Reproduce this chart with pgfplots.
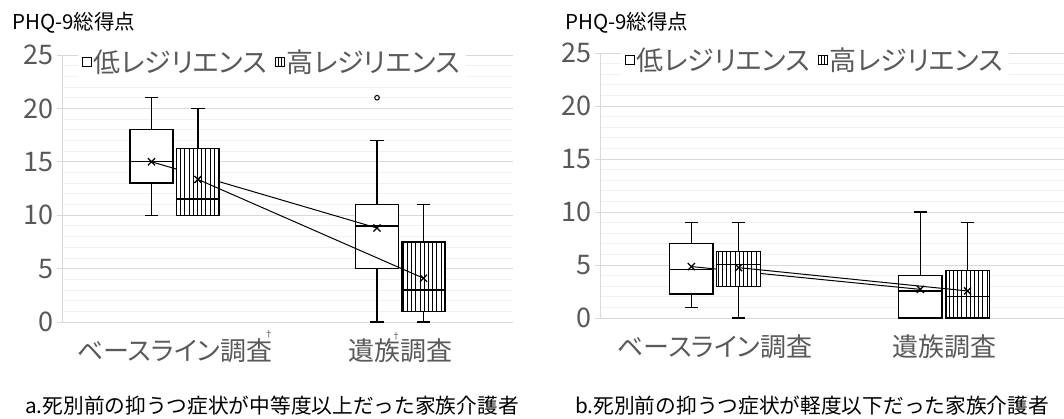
\documentclass[border=0pt]{standalone}
\usepackage{fontspec}
\setmainfont{Noto Sans CJK JP}[RawFeature={+palt}]
\newfontfamily\capfont{Noto Sans CJK JP}
\usepackage{pgfplots}
\pgfplotsset{compat=1.18}
\usepgfplotslibrary{statistics}
\usetikzlibrary{patterns.meta}
\definecolor{labgray}{HTML}{595959}
\definecolor{gridmaj}{HTML}{D9D9D9}
\definecolor{gridmin}{HTML}{F0F0F0}
\pgfplotsset{
  mybase/.style={
    scale only axis, anchor=south west,
    ymin=0, ymax=25,
    axis x line*=bottom, axis y line*=left,
    axis line style={draw=gridmaj, line width=0.8pt, -},
    ytick={0,5,...,25}, minor ytick={1,2,3,4,6,7,8,9,11,12,13,14,16,17,18,19,21,22,23,24},
    ymajorgrids, yminorgrids,
    major grid style={draw=gridmaj, line width=0.8pt},
    minor grid style={draw=gridmin, line width=0.8pt},
    xtick={1,2},
    major x tick style={draw=none},
    tick align=outside, major tick length=5pt, minor tick length=0pt,
    major y tick style={draw=gridmaj, line width=0.8pt},
    yticklabel style={font=\fontsize{27}{27}\selectfont, text=labgray},
    xticklabel style={font=\fontsize{26}{26}\selectfont, text=labgray, yshift=-8pt},
    /pgf/number format/assume math mode=true,
    clip=false,
    boxplot/draw direction=y,
    legend style={draw=none, fill=white, legend columns=2,
      font=\fontsize{27}{27}\selectfont, text=labgray,
      inner xsep=4pt, inner ysep=1pt,
      /tikz/every even column/.append style={column sep=6pt}},
  },
  lowbox/.style={forget plot, draw=black, line width=1.35pt,
    boxplot/every box/.style={fill=white}},
  highbox/.style={forget plot, draw=black, line width=1.35pt,
    boxplot/every box/.style={preaction={fill=white},
      pattern={Lines[angle=90,distance=4.2pt,line width=0.9pt]}}},
  meanline/.style={forget plot, black, line width=1pt, mark=x, mark size=5pt,
    mark options={line width=1.3pt}},
}
\newcommand{\legimgs}{%
  \addlegendimage{legend image code/.code={\draw[black,line width=0.9pt,fill=white] (0pt,-4.5pt) rectangle (9pt,4.5pt);}}
  \addlegendentry{低レジリエンス}
  \addlegendimage{legend image code/.code={\draw[black,line width=0.9pt,fill=white] (0pt,-4.5pt) rectangle (9pt,4.5pt);
     \draw[black,line width=0.9pt] (3pt,-4.5pt) -- (3pt,4.5pt) (6pt,-4.5pt) -- (6pt,4.5pt);}}
  \addlegendentry{高レジリエンス}%
}
\begin{document}
\begin{tikzpicture}[x=1pt,y=1pt]
% ---------- left chart ----------
\begin{axis}[mybase, at={(62pt,97pt)}, width=451pt, height=267pt,
  xmin=0.5, xmax=2.5,
  xticklabels={ベースライン調査, 遺族調査},
  legend style={at={(rel axis cs:0.035,1.03)}, anchor=north west}]
\legimgs
% low boxes
\addplot[lowbox, boxplot prepared={draw position=0.897, lower whisker=10, lower quartile=13, median=15, upper quartile=18, upper whisker=21, box extend=0.19, whisker extend=0.058}] coordinates {};
\addplot[lowbox, boxplot prepared={draw position=1.897, lower whisker=0, lower quartile=5, median=9, upper quartile=11, upper whisker=17, box extend=0.19, whisker extend=0.058}] coordinates {};
\addplot[forget plot, only marks, mark=o, mark size=2.3pt, black, line width=1pt] coordinates {(1.897,21)};
\addplot[meanline] coordinates {(0.897,15.0) (1.897,8.8)};
% high boxes
\addplot[highbox, boxplot prepared={draw position=1.103, lower whisker=10, lower quartile=10, median=11.5, upper quartile=16.25, upper whisker=20, box extend=0.19, whisker extend=0.058}] coordinates {};
\addplot[highbox, boxplot prepared={draw position=2.103, lower whisker=0, lower quartile=1, median=3, upper quartile=7.5, upper whisker=11, box extend=0.19, whisker extend=0.058}] coordinates {};
\addplot[meanline] coordinates {(1.103,13.35) (2.103,4.1)};
\node[font=\fontsize{9}{9}\selectfont, text=labgray] at (axis cs:1.417,-1.2) {†};
\node[font=\fontsize{9}{9}\selectfont, text=labgray] at (axis cs:1.982,-1.3) {†};
\end{axis}
% ---------- right chart ----------
\begin{axis}[mybase, at={(600pt,101pt)}, width=464pt, height=265pt,
  xmin=0.498, xmax=2.524,
  xticklabels={ベースライン調査, 遺族調査},
  legend style={at={(rel axis cs:0.045,1.03)}, anchor=north west}]
\legimgs
\addplot[lowbox, boxplot prepared={draw position=0.897, lower whisker=1, lower quartile=2.25, median=4.55, upper quartile=7, upper whisker=9, box extend=0.19, whisker extend=0.058}] coordinates {};
\addplot[lowbox, boxplot prepared={draw position=1.897, lower whisker=0, lower quartile=0, median=2.55, upper quartile=4, upper whisker=10, box extend=0.19, whisker extend=0.058}] coordinates {};
\addplot[meanline] coordinates {(0.897,4.85) (1.897,2.7)};
\addplot[highbox, boxplot prepared={draw position=1.103, lower whisker=0, lower quartile=3, median=5.05, upper quartile=6.3, upper whisker=9, box extend=0.19, whisker extend=0.058}] coordinates {};
\addplot[highbox, boxplot prepared={draw position=2.103, lower whisker=0, lower quartile=0, median=2, upper quartile=4.5, upper whisker=9, box extend=0.19, whisker extend=0.058}] coordinates {};
\addplot[meanline] coordinates {(1.103,4.75) (2.103,2.55)};
\end{axis}
% titles and captions
\node[anchor=west, inner sep=0pt, font=\fontsize{20.5}{20.5}\selectfont] at (12pt,396pt) {PHQ-9総得点};
\node[anchor=west, inner sep=0pt, font=\fontsize{20.5}{20.5}\selectfont] at (565pt,396pt) {PHQ-9総得点};
\node[anchor=west, inner sep=0pt, font=\capfont\fontsize{20.7}{20.7}\selectfont] at (25pt,13pt) {a.死別前の抑うつ症状が中等度以上だった家族介護者};
\node[anchor=west, inner sep=0pt, font=\capfont\fontsize{20.7}{20.7}\selectfont] at (575pt,13pt) {b.死別前の抑うつ症状が軽度以下だった家族介護者};
\pgfresetboundingbox
\useasboundingbox (0,0) rectangle (1064pt,419pt);
\end{tikzpicture}
\end{document}
